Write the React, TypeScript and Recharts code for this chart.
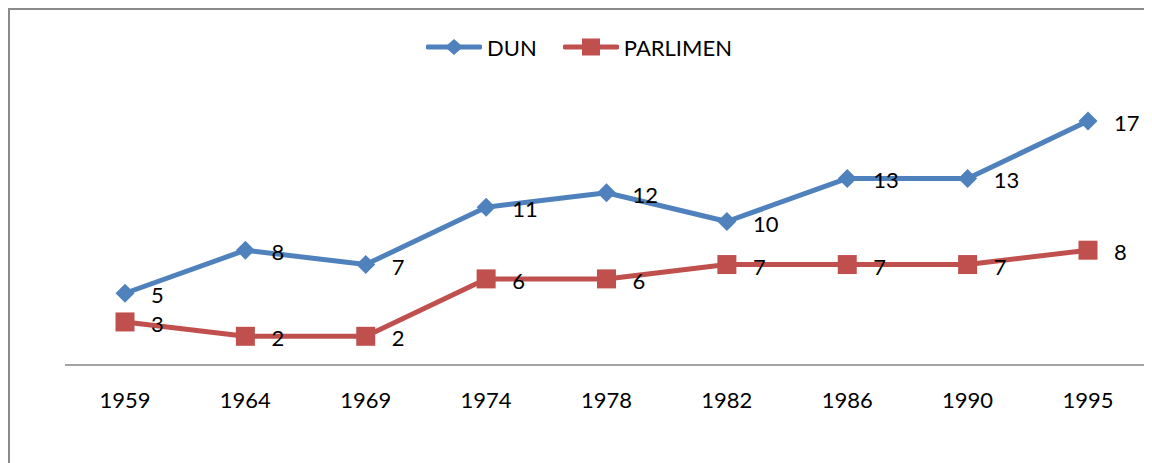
import { LineChart, Line, XAxis, YAxis, LabelList } from "recharts";

const years = ["1959", "1964", "1969", "1974", "1978", "1982", "1986", "1990", "1995"];
const dun = [5, 8, 7, 11, 12, 10, 13, 13, 17];
const parlimen = [3, 2, 2, 6, 6, 7, 7, 7, 8];

const data = years.map((year, i) => ({ year, dun: dun[i], parlimen: parlimen[i] }));

const BLUE = "#4F81BD";
const RED = "#C0504D";
const FONT = "Lato, 'Open Sans', sans-serif";

const Diamond = ({ cx, cy }: any) => (
  <path d={`M${cx},${cy - 9.5}L${cx + 9.5},${cy}L${cx},${cy + 9.5}L${cx - 9.5},${cy}Z`} fill={BLUE} />
);

const Square = ({ cx, cy }: any) => (
  <rect x={cx - 9.5} y={cy - 9.5} width={19} height={19} fill={RED} />
);

const ValueLabel = ({ x, y, value }: any) => (
  <text x={x + 26} y={y + 10} fontSize={22} fontFamily={FONT} fill="#000">
    {value}
  </text>
);

const YearTick = ({ x, y, payload }: any) => (
  <text x={x} y={y + 43} textAnchor="middle" fontSize={22} fontFamily={FONT} fill="#000">
    {payload.value}
  </text>
);

function LegendItem({ color, label, square }: { color: string; label: string; square?: boolean }) {
  return (
    <div style={{ display: "flex", alignItems: "center", gap: 5 }}>
      <svg width={56} height={20}>
        <line x1={2} y1={10} x2={54} y2={10} stroke={color} strokeWidth={5} strokeLinecap="round" />
        {square ? (
          <rect x={19} y={1.5} width={18} height={17} fill={color} />
        ) : (
          <path d="M28,2L37,10L28,18L19,10Z" fill={color} />
        )}
      </svg>
      <span style={{ fontSize: 22, fontFamily: FONT, color: "#000" }}>{label}</span>
    </div>
  );
}

export default function App() {
  return (
    <div
      style={{
        position: "relative",
        width: 1138,
        height: 460,
        border: "2px solid #8a8a8a",
        background: "#fff",
      }}
    >
      <div
        style={{
          position: "absolute",
          top: 25,
          left: 0,
          width: "100%",
          display: "flex",
          justifyContent: "center",
          gap: 26,
          height: 24,
          alignItems: "center",
        }}
      >
        <LegendItem color={BLUE} label="DUN" />
        <LegendItem color={RED} label="PARLIMEN" square />
      </div>
      <LineChart width={1138} height={460} data={data} margin={{ top: 68, right: 0, left: 55, bottom: 75 }}>
        <XAxis
          dataKey="year"
          height={30}
          stroke="#868686"
          strokeWidth={1.5}
          tickLine={false}
          tickSize={0}
          tickMargin={0}
          tick={<YearTick />}
          interval={0}
          padding={{ left: 60, right: 60 }}
        />
        <YAxis hide domain={[0, 20]} />
        <Line
          type="linear"
          dataKey="dun"
          stroke={BLUE}
          strokeWidth={5}
          strokeLinejoin="round"
          dot={<Diamond />}
          activeDot={false}
          isAnimationActive={false}
        >
          <LabelList dataKey="dun" content={<ValueLabel />} />
        </Line>
        <Line
          type="linear"
          dataKey="parlimen"
          stroke={RED}
          strokeWidth={5}
          strokeLinejoin="round"
          dot={<Square />}
          activeDot={false}
          isAnimationActive={false}
        >
          <LabelList dataKey="parlimen" content={<ValueLabel />} />
        </Line>
      </LineChart>
    </div>
  );
}
